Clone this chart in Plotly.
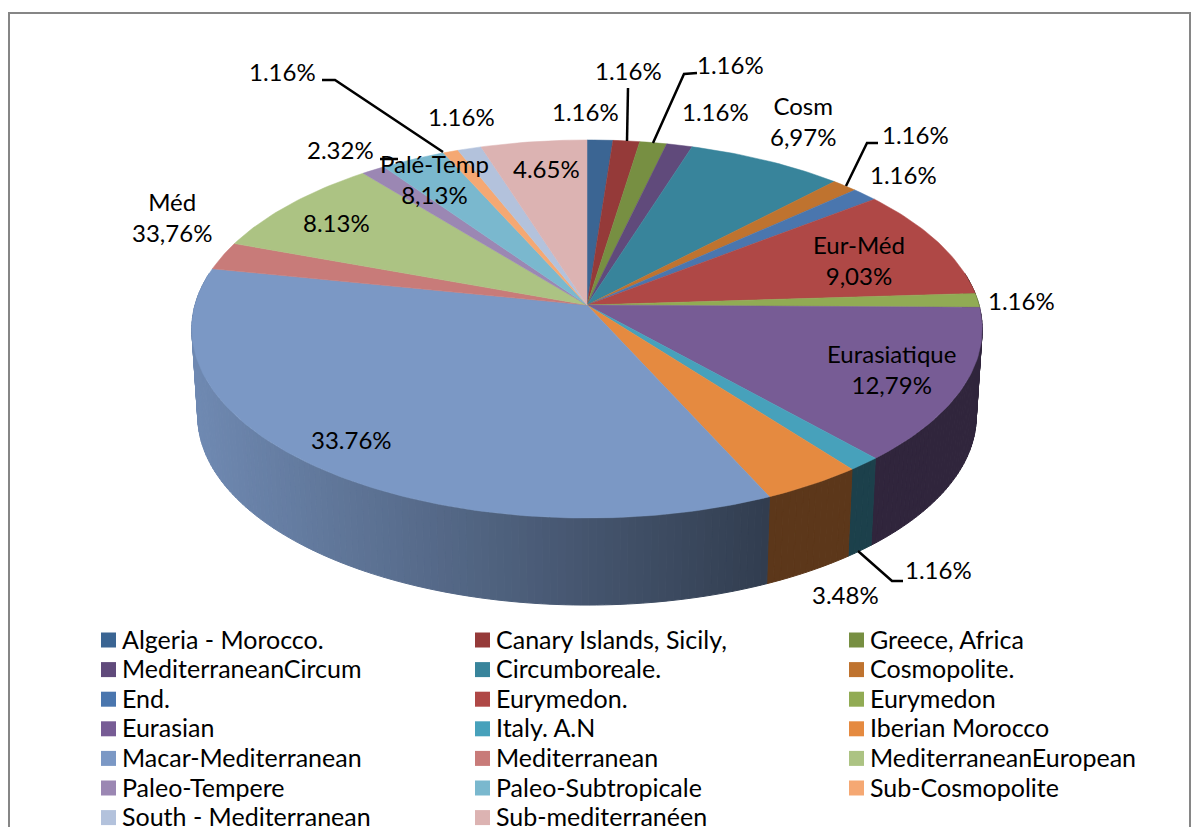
import math
import plotly.graph_objects as go

categories = ["Algeria - Morocco.", "Canary Islands, Sicily,", "Greece, Africa",
              "MediterraneanCircum", "Circumboreale.", "Cosmopolite.",
              "End.", "Eurymedon.", "Eurymedon",
              "Eurasian", "Italy. A.N", "Iberian Morocco",
              "Macar-Mediterranean", "Mediterranean", "MediterraneanEuropean",
              "Paleo-Tempere", "Paleo-Subtropicale", "Sub-Cosmopolite",
              "South - Mediterranean", "Sub-mediterranéen"]
values = [1.19, 1.23, 1.25, 1.19, 7.24, 1.2, 1.2, 9.5, 1.2, 13.2,
          1.2, 3.65, 34.95, 2.4, 8.6, 1.1, 3.0, 0.7, 1.1, 4.9]
colors = ["#3b6593", "#953a39", "#778f42", "#604a7b", "#38849b", "#bf732f", "#4a76ae",
          "#af4846", "#91ab54", "#775c95", "#47a1bb", "#e58a40", "#7b98c5", "#c87b79",
          "#acc383", "#9b87b3", "#7ab8ce", "#f5a873", "#b3c2dc", "#dcb3b2"]
label_texts = ["1.16%", "1.16%", "1.16%", "1.16%", "Cosm<br>6,97%", "1.16%", "1.16%",
               "Eur-Méd<br>9,03%", "1.16%", "Eurasiatique<br>12,79%", "1.16%", "3.48%",
               "33.76%", "Méd<br>33,76%", "8.13%", "2.32%", "Palé-Temp<br>8,13%", "1.16%",
               "1.16%", "4.65%"]
label_x = [585, 628, 730, 715, 803, 915, 903, 859, 1021, 891, 938, 845, 351, 172, 336, 340, 434, 282, 461, 546]
label_y = [113, 72, 66, 113, 122, 136, 176, 261, 302, 370, 571, 596, 441, 218, 224, 151, 180, 73, 118, 170]
leaders = [([628, 627], [88, 141]),
           ([697, 684, 653], [73, 74, 143]),
           ([878, 867, 846], [143, 143, 186]),
           ([903, 892, 858], [581, 581, 551]),
           ([322, 335, 443], [80, 80, 152]),
           ([380, 398], [159, 159])]

CX, CY, A, B, K = 587, 305, 392, 186, 0.127
DEPTH, SHRINK = 87, 0.985
KEY_X0, KEY_DX, KEY_Y0, KEY_DY, KEY_GAP = 108.5, 374, 640, 29.6, 12.5


def rim(theta):
    u, v = math.sin(theta), math.cos(theta)
    s = 1 / (1 + K * v)
    return CX + A * u * s, CY - B * v * s


def low(theta):
    x, y = rim(theta)
    return CX + (x - CX) * SHRINK, y + DEPTH


def shade(hex_color, f):
    r, g, b = (int(hex_color[i:i + 2], 16) for i in (1, 3, 5))
    return f"rgb({r * f:.0f},{g * f:.0f},{b * f:.0f})"


total = sum(values)
edges = [0.0]
for v in values:
    edges.append(edges[-1] + v / total * 2 * math.pi)

fig = go.Figure()
# Side wall, front half only: the top face hides everything else
for i, c in enumerate(colors):
    a0, a1 = max(edges[i], math.radians(80)), min(edges[i + 1], math.radians(280))
    if a1 <= a0:
        continue
    n = max(1, round(math.degrees(a1 - a0)))
    for j in range(n):
        t0, t1 = a0 + (a1 - a0) * j / n, a0 + (a1 - a0) * (j + 1) / n
        p = [rim(t0), rim(t1), low(t1), low(t0), rim(t0)]
        xm = (p[0][0] + p[1][0]) / 2
        f = 0.4 if xm > 770 else 0.4 + 0.5 * (770 - xm) / 575
        col = shade(c, f)
        fig.add_trace(go.Scatter(x=[q[0] for q in p], y=[q[1] for q in p], mode="lines",
                                 fill="toself", fillcolor=col, line=dict(color=col, width=1),
                                 hoverinfo="skip", showlegend=False))
# Top face
for i, c in enumerate(colors):
    n = max(2, round(math.degrees(edges[i + 1] - edges[i])))
    pts = [(CX, CY)] + [rim(edges[i] + (edges[i + 1] - edges[i]) * j / n) for j in range(n + 1)] + [(CX, CY)]
    fig.add_trace(go.Scatter(x=[q[0] for q in pts], y=[q[1] for q in pts], mode="lines",
                             fill="toself", fillcolor=c, line=dict(color=c, width=0.5),
                             name=categories[i], hoverinfo="name", showlegend=False))
# Leader lines
for lx, ly in leaders:
    fig.add_trace(go.Scatter(x=lx, y=ly, mode="lines", line=dict(color="black", width=2.5),
                             hoverinfo="skip", showlegend=False))
# Legend keys, three across
for k, (name, c) in enumerate(zip(categories, colors)):
    kx, ky = KEY_X0 + (k % 3) * KEY_DX, KEY_Y0 + (k // 3) * KEY_DY
    fig.add_trace(go.Scatter(x=[kx], y=[ky], mode="markers", name=name,
                             marker=dict(symbol="square", size=15, color=c),
                             hoverinfo="name", showlegend=False, cliponaxis=False))
    fig.add_annotation(x=kx + KEY_GAP, y=ky, yshift=1.5, text=name, showarrow=False, xanchor="left",
                       yanchor="middle", font=dict(size=25, color="black"), borderpad=0)

for t, x, y in zip(label_texts, label_x, label_y):
    fig.add_annotation(x=x, y=y, yshift=1.5, text=t, showarrow=False, font=dict(size=24, color="black"))

fig.add_shape(type="rect", x0=9, y0=13, x1=1190, y1=900, line=dict(color="#868686", width=2))
fig.update_xaxes(range=[0, 1194], visible=False, fixedrange=True)
fig.update_yaxes(range=[827, 0], visible=False, fixedrange=True)
fig.update_layout(width=1194, height=827, margin=dict(l=0, r=0, t=0, b=0, autoexpand=False),
                  plot_bgcolor="white", paper_bgcolor="white", showlegend=False,
                  font=dict(family="Lato", size=24, color="black"))
fig.write_html("out.html", config={"displayModeBar": False},
               post_script="document.body.style.margin='0';document.body.style.overflow='hidden';")
